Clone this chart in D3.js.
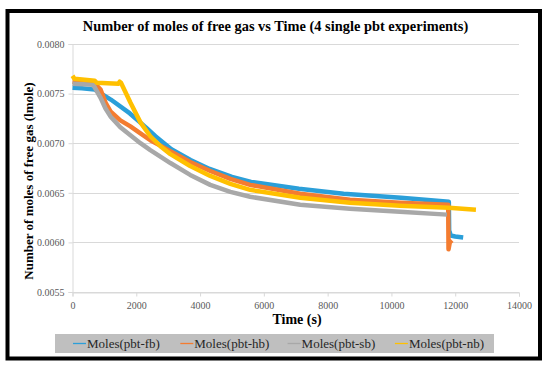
<!DOCTYPE html>
<html>
<head>
<meta charset="utf-8">
<script src="https://cdn.jsdelivr.net/npm/d3@7"></script>
<style>
  html, body { margin: 0; padding: 0; background: #fff; }
  svg { display: block; font-family: "Liberation Serif", "DejaVu Serif", serif; }
</style>
</head>
<body>
<svg id="chart" width="550" height="369"></svg>
<script>
// ---- data ----
const seriesNames = ["Moles(pbt-fb)", "Moles(pbt-hb)", "Moles(pbt-sb)", "Moles(pbt-nb)"];
const seriesColors = ["#2b9fd9", "#f47c30", "#a8a8a8", "#ffc000"];
const xTicks = [0, 2000, 4000, 6000, 8000, 10000, 12000, 14000];
const yTicks = [0.0055, 0.0060, 0.0065, 0.0070, 0.0075, 0.0080];

// [time (s), moles]
const fb = [[0,0.00756],[300,0.007555],[700,0.00754],[1200,0.00744],[1800,0.00730],[2300,0.00716],[2600,0.00707],[3100,0.00694],[3700,0.00683],[4300,0.00674],[5000,0.00666],[5600,0.00661],[7100,0.00654],[8500,0.00649],[10300,0.00645],[11800,0.00641],
            [11810,0.00612],[11860,0.00607],[12000,0.00606],[12250,0.00605]];
const hb = [[0,0.00762],[300,0.00761],[700,0.00760],[880,0.00754],[1035,0.00741],[1190,0.00732],[1500,0.00723],[1815,0.00717],[2130,0.00710],[2440,0.00703],[3070,0.00692],[3690,0.00681],[4320,0.00672],[4950,0.00664],[5570,0.00658],[7140,0.00649],[8700,0.00643],[10270,0.00640],[11780,0.00638],
            [11790,0.00593],[11830,0.00600],[11900,0.00602]];
const sb = [[0,0.00760],[650,0.00759],[770,0.00752],[876,0.00746],[1035,0.00735],[1190,0.00727],[1500,0.00716],[1815,0.00708],[2130,0.00700],[2440,0.00693],[3070,0.00680],[3690,0.00668],[4320,0.00658],[4950,0.00651],[5570,0.00646],[7140,0.00638],[8700,0.00634],[10270,0.00631],[11740,0.00628]];
const nb = [[0,0.00768],[60,0.00765],[700,0.00763],[760,0.00761],[1440,0.00760],[1480,0.00762],[1520,0.00761],[1815,0.00741],[2130,0.00721],[2440,0.00707],[2756,0.00697],[3070,0.00689],[3690,0.00677],[4320,0.00667],[4950,0.00659],[5570,0.00653],[7140,0.00645],[8700,0.00640],[10270,0.00637],[11800,0.00635],[12650,0.00633]];
const allSeries = [fb, hb, sb, nb];

// ---- layout ----
const svg = d3.select("#chart");
const W = 550, H = 369;
const plot = { left: 72.5, right: 519, top: 44, bottom: 292 };

const x = d3.scaleLinear().domain([0, 14000]).range([plot.left, plot.right]);
const y = d3.scaleLinear().domain([0.0055, 0.0080]).range([plot.bottom, plot.top]);

svg.append("rect").attr("x", 0).attr("y", 0).attr("width", W).attr("height", H).attr("fill", "#fff");

// frame
svg.append("rect")
  .attr("x", 7.5).attr("y", 11).attr("width", 532.5).attr("height", 347.5)
  .attr("fill", "#fff").attr("stroke", "#000").attr("stroke-width", 4);

// gridlines
svg.append("g").selectAll("line").data(yTicks).join("line")
  .attr("x1", plot.left).attr("x2", plot.right)
  .attr("y1", d => Math.round(y(d)) + 0.5).attr("y2", d => Math.round(y(d)) + 0.5)
  .attr("stroke", "#d9d9d9").attr("stroke-width", 1);

// y axis
const yAxis = svg.append("g")
  .attr("transform", `translate(${plot.left},0)`)
  .call(d3.axisLeft(y).tickValues(yTicks).tickFormat(d3.format(".4f")).tickSize(4).tickPadding(4));
// x axis
const xAxis = svg.append("g")
  .attr("transform", `translate(0,${Math.round(y(0.0055)) + 0.5})`)
  .call(d3.axisBottom(x).tickValues(xTicks).tickFormat(d3.format("d")).tickSize(4).tickPadding(5));

[yAxis, xAxis].forEach(g => {
  g.selectAll("path.domain").attr("stroke", "#d9d9d9");
  g.selectAll(".tick line").attr("stroke", "#d9d9d9");
  g.selectAll(".tick text")
    .attr("fill", "#595959")
    .style("font-family", "'Liberation Serif', serif")
    .style("font-size", "10px");
});

// series
const line = d3.line().x(d => x(d[0])).y(d => y(d[1]));
svg.append("g").selectAll("path").data(allSeries).join("path")
  .attr("d", line)
  .attr("fill", "none")
  .attr("stroke", (d, i) => seriesColors[i])
  .attr("stroke-width", 4.5)
  .attr("stroke-linejoin", "round");

// title
svg.append("text")
  .attr("x", 275.5).attr("y", 31)
  .attr("text-anchor", "middle")
  .style("font-weight", "bold").style("font-size", "14.4px").attr("fill", "#000")
  .text("Number of moles of free gas vs Time (4 single pbt experiments)");

// y axis title
svg.append("text")
  .attr("transform", "translate(33,181) rotate(-90)")
  .attr("text-anchor", "middle")
  .style("font-weight", "bold").style("font-size", "13px").attr("fill", "#000")
  .text("Number of moles of free gas (lmole)");

// x axis title
svg.append("text")
  .attr("x", 297).attr("y", 324)
  .attr("text-anchor", "middle")
  .style("font-weight", "bold").style("font-size", "14px").attr("fill", "#000")
  .text("Time (s)");

// legend
svg.append("rect")
  .attr("x", 55).attr("y", 334).attr("width", 439).attr("height", 19)
  .attr("fill", "#bfbfbf");
const leg = svg.append("g").selectAll("g").data(seriesNames).join("g")
  .attr("transform", (d, i) => `translate(${73 + i * 107.3},343.5)`);
leg.append("line").attr("x1", 0).attr("x2", 13).attr("y1", 0).attr("y2", 0)
  .attr("stroke", (d, i) => seriesColors[i]).attr("stroke-width", 1.3);
leg.append("text").attr("x", 14).attr("y", 4.5)
  .style("font-size", "13px").attr("fill", "#262626")
  .text(d => d);
</script>
</body>
</html>
